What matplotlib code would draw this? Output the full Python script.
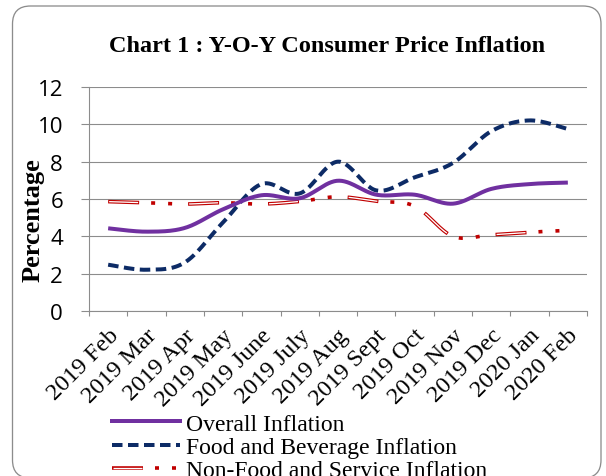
import numpy as np
import matplotlib
matplotlib.use("Agg")
import matplotlib.pyplot as plt
import matplotlib.transforms as mtransforms
from matplotlib.patches import FancyBboxPatch
from matplotlib.lines import Line2D

months = ["2019 Feb", "2019 Mar", "2019 Apr", "2019 May", "2019 June", "2019 July",
          "2019 Aug", "2019 Sept", "2019 Oct", "2019 Nov", "2019 Dec", "2020 Jan", "2020 Feb"]
overall = [4.43, 4.25, 4.45, 5.45, 6.2, 6.04, 6.98, 6.23, 6.23, 5.75, 6.54, 6.8, 6.88]
food = [2.48, 2.21, 2.6, 4.75, 6.8, 6.3, 8.0, 6.46, 7.16, 7.93, 9.63, 10.21, 9.75]
nonfood = [5.86, 5.8, 5.73, 5.8, 5.73, 5.87, 6.12, 5.88, 5.62, 4.0, 4.08, 4.22, 4.32]

PX = 0.72  # points per pixel at dpi 100
serif = "Liberation Serif"
plt.rcParams["lines.scale_dashes"] = False
plt.rcParams["font.family"] = serif


def smooth(xs, ys, n=30):
    # excel style smoothed line: catmull-rom bezier through the points
    x = np.asarray(xs, float)
    y = np.asarray(ys, float)
    px = np.concatenate([[x[0]], x, [x[-1]]])
    py = np.concatenate([[y[0]], y, [y[-1]]])
    outx, outy = [], []
    t = np.linspace(0, 1, n)
    for i in range(1, len(px) - 2):
        p0 = np.array([px[i], py[i]])
        p3 = np.array([px[i + 1], py[i + 1]])
        c1 = p0 + (p3 - np.array([px[i - 1], py[i - 1]])) / 6
        c2 = p3 - (np.array([px[i + 2], py[i + 2]]) - p0) / 6
        pts = (np.outer((1 - t) ** 3, p0) + np.outer(3 * (1 - t) ** 2 * t, c1)
               + np.outer(3 * (1 - t) * t ** 2, c2) + np.outer(t ** 3, p3))
        if i > 1:
            pts = pts[1:]
        outx.extend(pts[:, 0])
        outy.extend(pts[:, 1])
    return outx, outy


fig = plt.figure(figsize=(6.06, 4.77), dpi=100)
ax = fig.add_axes([89 / 606, 1 - 312 / 477, 498 / 606, 224 / 477])

xi = np.arange(len(months))

purple = "#7030A0"
navy = "#0D2B66"
red = "#C00000"
food_dash = (10.5 * PX, 5.5 * PX)
nf_red = (31 * PX, 12 * PX, 4 * PX, 13 * PX, 4 * PX, 16 * PX)
nf_white = (79 * PX, (29 * PX, 51 * PX))

sx, sy = smooth(xi, overall)
ax.plot(sx, sy, color=purple, lw=4 * PX, solid_capstyle="butt", zorder=4)

sx, sy = smooth(xi, food)
ax.plot(sx, sy, color=navy, lw=4 * PX, dashes=food_dash, dash_capstyle="butt", zorder=3)

sx, sy = smooth(xi, nonfood)
ax.plot(sx, sy, color=red, lw=3.6 * PX, dashes=nf_red, dash_capstyle="butt", zorder=2)
ax.plot(sx, sy, color="white", lw=1.3 * PX, linestyle=nf_white, dash_capstyle="butt", zorder=2)

ax.set_xlim(-0.5, len(months) - 0.5)
ax.set_ylim(0, 12)
ax.set_yticks(range(0, 13, 2))

grid_c = "#8C8C8C"
ax.yaxis.grid(True, color=grid_c, lw=1.1 * PX)
ax.set_axisbelow(True)
for s in ["top", "right"]:
    ax.spines[s].set_visible(False)
for s in ["left", "bottom"]:
    ax.spines[s].set_color(grid_c)
    ax.spines[s].set_linewidth(1.1 * PX)

ax.tick_params(axis="y", length=8 * PX, width=1.1 * PX, color=grid_c, pad=18 * PX)
for lab in ax.get_yticklabels():
    lab.set_fontfamily("Open Sans")
    lab.set_fontsize(16)

ax.set_xticks(xi)
ax.set_xticks(np.arange(-0.5, len(months), 1), minor=True)
ax.tick_params(axis="x", which="major", length=0, pad=21 * PX)
ax.tick_params(axis="x", which="minor", length=5 * PX, width=1.1 * PX, color=grid_c)
ax.set_xticklabels(months, rotation=45, ha="right", va="center", rotation_mode="anchor",
                   fontfamily=serif, fontsize=17.5)
shift = mtransforms.ScaledTranslation(7 / 100, 0, fig.dpi_scale_trans)
for lab in ax.get_xticklabels():
    lab.set_transform(lab.get_transform() + shift)

fig.text(33 / 606, 1 - 220 / 477, "Percentage", rotation=90, ha="center", va="center",
         fontfamily=serif, fontweight="bold", fontsize=19)
fig.text(327.5 / 606, 1 - 47 / 477, "Chart 1 : Y-O-Y Consumer Price Inflation",
         ha="center", va="center", fontfamily=serif, fontweight="bold", fontsize=17.5)

# legend
handles = [
    Line2D([], [], color=purple, lw=4 * PX),
    Line2D([], [], color=navy, lw=4 * PX, dashes=food_dash),
    (Line2D([], [], color=red, lw=3.6 * PX, dashes=nf_red, dash_capstyle="butt"),
     Line2D([], [], color="white", lw=1.3 * PX, linestyle=nf_white, dash_capstyle="butt")),
]
leg = fig.legend(handles, ["Overall Inflation", "Food and Beverage Inflation",
                           "Non-Food and Service Inflation"],
                 loc="upper left", bbox_to_anchor=(112 / 606, 1 - 414 / 477),
                 frameon=False, prop={"family": serif, "size": 17},
                 handlelength=2.9, handletextpad=0.25, labelspacing=0.08,
                 borderpad=0, borderaxespad=0)

frame = FancyBboxPatch((12.5, 477 - 479), 588.5, 472, boxstyle="round,pad=0,rounding_size=18",
                       transform=None, fill=False, edgecolor="#8C8C8C", lw=1.3 * PX)
fig.patches.append(frame)

fig.savefig("out.png", dpi=100)
